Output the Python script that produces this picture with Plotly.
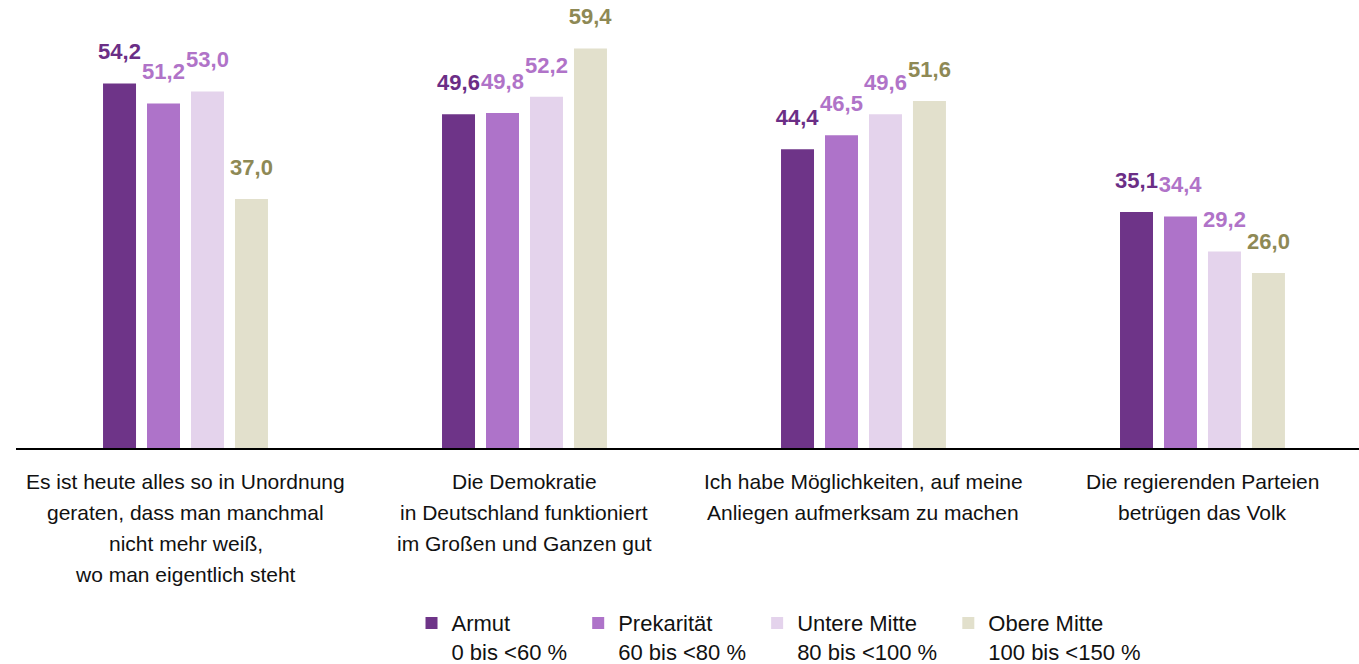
import plotly.graph_objects as go

categories = [
    "Es ist heute alles so in Unordnung\ngeraten, dass man manchmal\nnicht mehr weiß,\nwo man eigentlich steht",
    "Die Demokratie\nin Deutschland funktioniert\nim Großen und Ganzen gut",
    "Ich habe Möglichkeiten, auf meine\nAnliegen aufmerksam zu machen",
    "Die regierenden Parteien\nbetrügen das Volk",
]
series_names = [
    "Armut<br>0 bis &lt;60 %&nbsp;",
    "Prekarität<br>60 bis &lt;80 %&nbsp;",
    "Untere Mitte<br>80 bis &lt;100 %&nbsp;",
    "Obere Mitte<br>100 bis &lt;150 %",
]
armut = [54.2, 49.6, 44.4, 35.1]
prekaritaet = [51.2, 49.8, 46.5, 34.4]
untere_mitte = [53.0, 52.2, 49.6, 29.2]
obere_mitte = [37.0, 59.4, 51.6, 26.0]

bar_colors = ["#6E3488", "#AE73C9", "#E4D3EC", "#E2E0CC"]
label_colors = ["#6B2E86", "#B073C8", "#B073C8", "#8E8955"]

FONT = "Liberation Sans, Arial, sans-serif"

cat_keys = [c.split("\n")[0] for c in categories]

fig = go.Figure()
for name, vals, bc, lc in zip(series_names, [armut, prekaritaet, untere_mitte, obere_mitte], bar_colors, label_colors):
    fig.add_trace(go.Bar(
        x=cat_keys, y=vals, name=name,
        marker=dict(color=bc, line=dict(width=0)),
        text=["<span style='font-size:22px'>" + f"{v:.1f}".replace(".", ",") + "</span><br> " for v in vals],
        textposition="outside",
        constraintext="none",
        cliponaxis=False,
        textfont=dict(family=FONT, size=14, color=lc, weight="bold"),
        hoverinfo="skip",
    ))

ann = []
for key, cat in zip(cat_keys, categories):
    for i, line in enumerate(cat.split("\n")):
        ann.append(dict(
            x=key, xref="x", y=0, yref="y", yanchor="middle", xanchor="center",
            yshift=-(33 + 31 * i), text=line, showarrow=False,
            font=dict(family=FONT, size=21, color="#111111"),
        ))

fig.update_layout(
    width=1359, height=664,
    margin=dict(l=16, r=0, t=0, b=216, autoexpand=False),
    paper_bgcolor="white", plot_bgcolor="white",
    barmode="group", bargap=0.481, bargroupgap=0.25,
    showlegend=True,
    legend=dict(
        orientation="h", x=0.2945, y=-0.344, xanchor="left", yanchor="top",
        font=dict(family=FONT, size=22, color="#111111"),
        valign="top", itemwidth=30, traceorder="normal",
    ),
    xaxis=dict(
        type="category", range=[-0.5, 3.4617],
        showline=True, linecolor="black", linewidth=2,
        showticklabels=False, ticks="", showgrid=False, zeroline=False,
        fixedrange=True,
    ),
    yaxis=dict(range=[0, 66.6], visible=False, fixedrange=True),
    annotations=ann,
)

fig.write_html("out.html", config={"displayModeBar": False},
               post_script="document.body.style.margin='0';")
